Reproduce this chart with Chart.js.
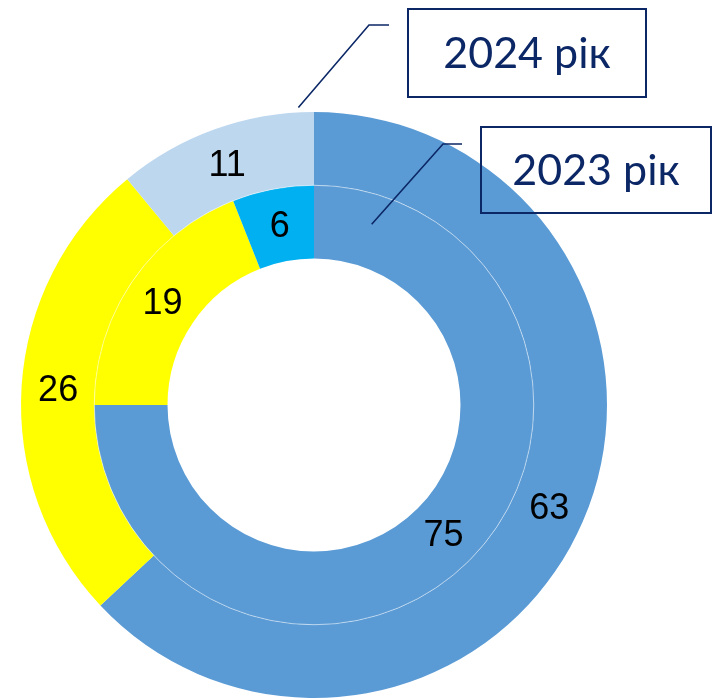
<!DOCTYPE html>
<html><head><meta charset="utf-8">
<script src="https://cdn.jsdelivr.net/npm/chart.js@4/dist/chart.umd.min.js"></script>
<style>html,body{margin:0;padding:0;background:#fff}</style>
</head><body>
<canvas id="c" width="712" height="700"></canvas>
<script>
const categories = ['Категорія 1', 'Категорія 2', 'Категорія 3'];
const values2024 = [63, 26, 11];
const values2023 = [75, 19, 6];
const seriesLabels = ['2024 рік', '2023 рік'];
const colors2024 = ['#5B9BD5', '#FFFF00', '#BDD7EE'];
const colors2023 = ['#5B9BD5', '#FFFF00', '#00B0F0'];

const NAVY = '#0B2766';

const ringSeparator = {
  id: 'ringSeparator',
  afterDatasetsDraw(chart) {
    const ctx = chart.ctx;
    const inner = chart.getDatasetMeta(1).data[0];
    ctx.save();
    ctx.strokeStyle = 'rgba(255,255,255,0.6)';
    ctx.lineWidth = 0.8;
    ctx.beginPath();
    ctx.arc(inner.x, inner.y, inner.outerRadius, 0, Math.PI * 2);
    ctx.stroke();
    ctx.restore();
  }
};

const valueLabels = {
  id: 'valueLabels',
  afterDatasetsDraw(chart) {
    const ctx = chart.ctx;
    ctx.save();
    ctx.font = '36px "Liberation Sans", Arial, sans-serif';
    ctx.fillStyle = '#000';
    ctx.textAlign = 'center';
    ctx.textBaseline = 'middle';
    chart.data.datasets.forEach((ds, di) => {
      const meta = chart.getDatasetMeta(di);
      meta.data.forEach((arc, i) => {
        const p = arc.tooltipPosition();
        ctx.fillText(String(ds.data[i]), p.x, p.y + 2);
      });
    });
    ctx.restore();
  }
};

function polar(cx, cy, r, deg) {
  const a = deg * Math.PI / 180;
  return { x: cx + r * Math.sin(a), y: cy - r * Math.cos(a) };
}

const callouts = {
  id: 'callouts',
  afterDraw(chart) {
    const ctx = chart.ctx;
    const outer = chart.getDatasetMeta(0).data[0];
    const inner = chart.getDatasetMeta(1).data[0];
    const cx = outer.x, cy = outer.y;
    const items = [
      { text: seriesLabels[0], start: polar(cx, cy, outer.outerRadius + 5, -3),
        elbow: { x: 369, y: 25 }, end: { x: 389, y: 25 }, box: { x: 408, y: 9, w: 238, h: 88 } },
      { text: seriesLabels[1], start: polar(cx, cy, inner.outerRadius - 30, 17.7),
        elbow: { x: 443, y: 144 }, end: { x: 462, y: 144 }, box: { x: 481, y: 127, w: 230, h: 86 } }
    ];
    ctx.save();
    ctx.strokeStyle = NAVY;
    items.forEach(it => {
      ctx.lineWidth = 1.6;
      ctx.beginPath();
      ctx.moveTo(it.start.x, it.start.y);
      ctx.lineTo(it.elbow.x, it.elbow.y);
      ctx.lineTo(it.end.x, it.end.y);
      ctx.stroke();
      ctx.lineWidth = 2;
      ctx.strokeRect(it.box.x, it.box.y, it.box.w, it.box.h);
      ctx.fillStyle = NAVY;
      ctx.font = '43px Lato, "Open Sans", sans-serif';
      ctx.textAlign = 'center';
      ctx.textBaseline = 'middle';
      ctx.fillText(it.text, it.box.x + it.box.w / 2, it.box.y + it.box.h / 2 + 1);
    });
    ctx.restore();
  }
};

new Chart(document.getElementById('c'), {
  type: 'doughnut',
  data: {
    labels: categories,
    datasets: [
      { label: seriesLabels[0], data: values2024, backgroundColor: colors2024, borderWidth: 0 },
      { label: seriesLabels[1], data: values2023, backgroundColor: colors2023, borderWidth: 0 }
    ]
  },
  options: {
    responsive: false,
    animation: false,
    cutout: '50%',
    layout: { padding: { left: 21, right: 105, top: 112, bottom: 2 } },
    plugins: { legend: { display: false }, tooltip: { enabled: false } }
  },
  plugins: [ringSeparator, valueLabels, callouts]
});
</script>
</body></html>
